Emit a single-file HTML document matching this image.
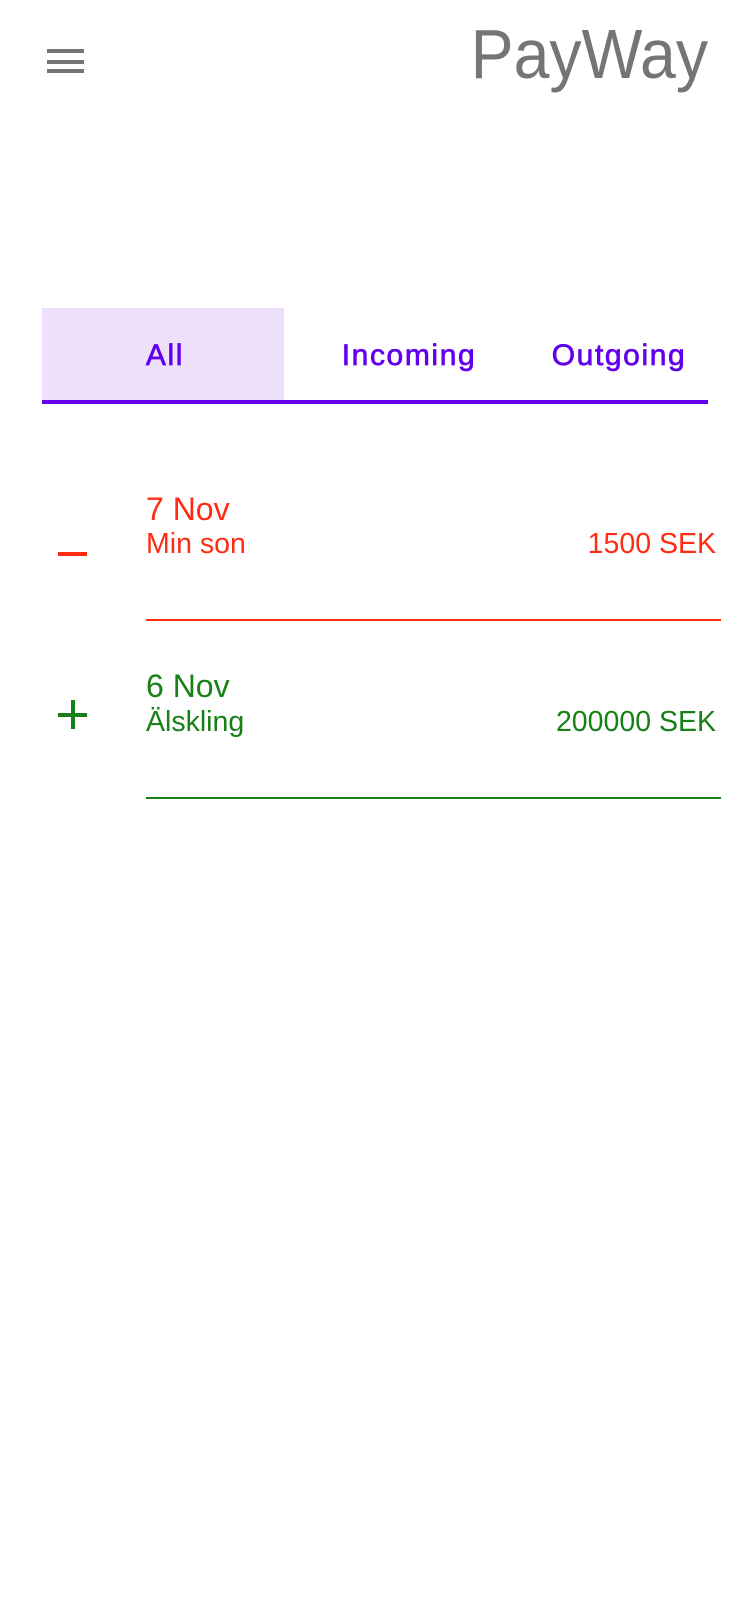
<!DOCTYPE html>
<html><head><meta charset="utf-8"><style>
html,body{margin:0;padding:0;background:#fff;width:750px;height:1624px;overflow:hidden;position:relative;font-family:"Liberation Sans",sans-serif}
.a{position:absolute;line-height:1;white-space:nowrap}
.bar{position:absolute}
.tab{position:absolute;top:341px;font-size:30px;color:#6200ee;letter-spacing:1.6px;line-height:1;transform:translateX(-50%);-webkit-text-stroke:0.7px #6200ee}
.red{color:#ff2b12}.green{color:#178017}
</style></head><body>
<div style="position:absolute;left:44px;top:44px;width:44px;height:34px">
  <div class="bar" style="left:3px;top:5px;width:37px;height:4px;background:#757575"></div>
  <div class="bar" style="left:3px;top:16px;width:37px;height:4px;background:#757575"></div>
  <div class="bar" style="left:3px;top:25px;width:37px;height:4px;background:#757575"></div>
</div>
<div class="a" style="right:42px;top:19px;font-size:70px;color:#757575;transform:scaleX(0.92);transform-origin:right center">PayWay</div>

<div style="position:absolute;left:42px;top:308px;width:242px;height:92px;background:#ede0fb"></div>
<div class="tab" style="left:165px">All</div>
<div class="tab" style="left:409px">Incoming</div>
<div class="tab" style="left:619px">Outgoing</div>
<div style="position:absolute;left:42px;top:400px;width:666px;height:4px;background:#6200ee"></div>

<div>
  <div style="position:absolute;left:58px;top:552px;width:29px;height:4px;background:#ff2b12"></div>
  <div class="a red" style="left:146px;top:493px;font-size:32px">7 Nov</div>
  <div class="a red" style="left:146px;top:530px;font-size:28.5px">Min son</div>
  <div class="a red" style="right:34px;top:530px;font-size:28.5px">1500 SEK</div>
  <div style="position:absolute;left:146px;top:619px;width:575px;height:2px;background:#ff2b12"></div>
</div>

<div>
  <div style="position:absolute;left:58px;top:700px;width:29px;height:29px">
    <div class="bar" style="left:0;top:13px;width:29px;height:4px;background:#178017"></div>
    <div class="bar" style="left:12.5px;top:0;width:4px;height:29px;background:#178017"></div>
  </div>
  <div class="a green" style="left:146px;top:670px;font-size:32px">6 Nov</div>
  <div class="a green" style="left:146px;top:708px;font-size:28.5px">Älskling</div>
  <div class="a green" style="right:34px;top:708px;font-size:28.5px">200000 SEK</div>
  <div style="position:absolute;left:146px;top:797px;width:575px;height:2px;background:#178017"></div>
</div>
</body></html>
